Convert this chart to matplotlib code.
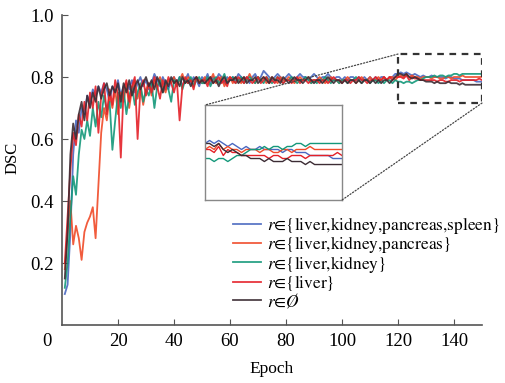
import matplotlib
matplotlib.use("Agg")
import matplotlib.pyplot as plt
from matplotlib.patches import Rectangle, ConnectionPatch

plt.rcParams['font.family'] = ['Liberation Serif', 'DejaVu Serif']
plt.rcParams['mathtext.fontset'] = 'stix'

epochs = list(range(1, 151))

labels = [r"$r$∈{liver,kidney,pancreas,spleen}",
          r"$r$∈{liver,kidney,pancreas}",
          r"$r$∈{liver,kidney}",
          r"$r$∈{liver}",
          r"$r$∈$Ø$"]
colors = ["#4a68c0", "#f04a28", "#14987a", "#e42028", "#3c2c34"]

dsc_spleen = [
    0.10, 0.13, 0.30, 0.55, 0.66, 0.62, 0.70, 0.68, 0.74, 0.72,
    0.76, 0.74, 0.77, 0.75, 0.78, 0.76, 0.72, 0.77, 0.75, 0.79,
    0.74, 0.77, 0.78, 0.76, 0.79, 0.75, 0.78, 0.80, 0.77, 0.79,
    0.76, 0.78, 0.81, 0.79, 0.77, 0.80, 0.78, 0.76, 0.79, 0.80,
    0.78, 0.80, 0.77, 0.79, 0.81, 0.78, 0.80, 0.79, 0.77, 0.80,
    0.79, 0.81, 0.78, 0.80, 0.79, 0.81, 0.80, 0.78, 0.80, 0.79,
    0.80, 0.79, 0.81, 0.80, 0.79, 0.80, 0.78, 0.80, 0.81, 0.79,
    0.80, 0.82, 0.81, 0.80, 0.79, 0.80, 0.81, 0.80, 0.79, 0.80,
    0.81, 0.80, 0.79, 0.80, 0.81, 0.80, 0.80, 0.79, 0.80, 0.81,
    0.80, 0.79, 0.80, 0.80, 0.81, 0.80, 0.79, 0.80, 0.80, 0.79,
    0.80, 0.79, 0.80, 0.80, 0.79, 0.80, 0.79, 0.80, 0.79, 0.80,
    0.79, 0.80, 0.79, 0.80, 0.80, 0.79, 0.80, 0.80, 0.81, 0.81,
    0.815, 0.81, 0.815, 0.81, 0.805, 0.81, 0.805, 0.80, 0.805, 0.80,
    0.80, 0.805, 0.80, 0.80, 0.80, 0.80, 0.795, 0.80, 0.80, 0.795,
    0.795, 0.795, 0.79, 0.79, 0.79, 0.79, 0.79, 0.785, 0.785, 0.785]

dsc_pancreas = [
    0.18, 0.30, 0.40, 0.26, 0.32, 0.28, 0.21, 0.30, 0.33, 0.35,
    0.38, 0.28, 0.45, 0.62, 0.70, 0.66, 0.74, 0.70, 0.76, 0.68,
    0.75, 0.72, 0.78, 0.70, 0.76, 0.79, 0.73, 0.77, 0.71, 0.76,
    0.78, 0.74, 0.79, 0.76, 0.80, 0.77, 0.75, 0.79, 0.78, 0.80,
    0.77, 0.79, 0.81, 0.78, 0.80, 0.79, 0.77, 0.80, 0.79, 0.78,
    0.80, 0.78, 0.79, 0.81, 0.78, 0.79, 0.80, 0.77, 0.79, 0.80,
    0.78, 0.80, 0.79, 0.78, 0.80, 0.79, 0.81, 0.79, 0.78, 0.80,
    0.79, 0.80, 0.78, 0.79, 0.80, 0.79, 0.78, 0.80, 0.79, 0.79,
    0.80, 0.79, 0.78, 0.79, 0.80, 0.79, 0.79, 0.80, 0.78, 0.79,
    0.79, 0.80, 0.79, 0.78, 0.79, 0.80, 0.79, 0.79, 0.78, 0.79,
    0.79, 0.80, 0.79, 0.79, 0.78, 0.79, 0.80, 0.79, 0.79, 0.80,
    0.79, 0.79, 0.80, 0.79, 0.80, 0.79, 0.80, 0.80, 0.79, 0.80,
    0.805, 0.80, 0.81, 0.80, 0.805, 0.80, 0.80, 0.795, 0.80, 0.80,
    0.80, 0.795, 0.80, 0.80, 0.795, 0.795, 0.80, 0.80, 0.795, 0.80,
    0.80, 0.80, 0.805, 0.80, 0.80, 0.80, 0.80, 0.80, 0.80, 0.80]

dsc_kidney = [
    0.12, 0.20, 0.35, 0.48, 0.42, 0.55, 0.63, 0.60, 0.66, 0.61,
    0.70, 0.64, 0.72, 0.67, 0.74, 0.69, 0.72, 0.565, 0.66, 0.75,
    0.70, 0.76, 0.68, 0.74, 0.77, 0.71, 0.75, 0.78, 0.72, 0.76,
    0.74, 0.78, 0.70, 0.77, 0.79, 0.75, 0.78, 0.76, 0.72, 0.79,
    0.77, 0.80, 0.76, 0.79, 0.78, 0.80, 0.77, 0.79, 0.80, 0.78,
    0.78, 0.80, 0.77, 0.79, 0.80, 0.78, 0.79, 0.81, 0.78, 0.79,
    0.80, 0.78, 0.79, 0.80, 0.78, 0.79, 0.80, 0.79, 0.78, 0.80,
    0.79, 0.78, 0.80, 0.79, 0.78, 0.79, 0.80, 0.79, 0.78, 0.79,
    0.79, 0.80, 0.79, 0.78, 0.79, 0.79, 0.80, 0.79, 0.78, 0.79,
    0.78, 0.79, 0.79, 0.80, 0.79, 0.78, 0.79, 0.79, 0.78, 0.79,
    0.79, 0.78, 0.79, 0.79, 0.80, 0.79, 0.78, 0.79, 0.79, 0.78,
    0.79, 0.79, 0.78, 0.79, 0.78, 0.79, 0.79, 0.78, 0.79, 0.785,
    0.785, 0.78, 0.785, 0.785, 0.78, 0.785, 0.79, 0.79, 0.795, 0.80,
    0.80, 0.80, 0.805, 0.80, 0.805, 0.805, 0.80, 0.805, 0.805, 0.81,
    0.81, 0.805, 0.81, 0.81, 0.81, 0.81, 0.81, 0.81, 0.81, 0.81]

dsc_liver = [
    0.20, 0.35, 0.50, 0.62, 0.58, 0.68, 0.64, 0.72, 0.66, 0.75,
    0.70, 0.77, 0.62, 0.74, 0.78, 0.68, 0.76, 0.71, 0.79, 0.74,
    0.54, 0.76, 0.79, 0.72, 0.77, 0.80, 0.60, 0.76, 0.79, 0.74,
    0.78, 0.75, 0.80, 0.77, 0.73, 0.79, 0.76, 0.80, 0.78, 0.75,
    0.79, 0.66, 0.77, 0.80, 0.78, 0.79, 0.76, 0.80, 0.78, 0.79,
    0.79, 0.77, 0.80, 0.78, 0.79, 0.80, 0.78, 0.79, 0.77, 0.80,
    0.79, 0.78, 0.80, 0.79, 0.78, 0.80, 0.79, 0.78, 0.79, 0.80,
    0.78, 0.79, 0.80, 0.78, 0.79, 0.78, 0.80, 0.79, 0.78, 0.79,
    0.79, 0.78, 0.79, 0.80, 0.78, 0.79, 0.79, 0.78, 0.79, 0.79,
    0.79, 0.78, 0.79, 0.79, 0.78, 0.79, 0.80, 0.79, 0.79, 0.78,
    0.79, 0.79, 0.78, 0.79, 0.79, 0.80, 0.79, 0.79, 0.78, 0.79,
    0.79, 0.80, 0.79, 0.79, 0.80, 0.79, 0.80, 0.79, 0.80, 0.80,
    0.80, 0.795, 0.805, 0.79, 0.80, 0.795, 0.795, 0.79, 0.79, 0.79,
    0.79, 0.79, 0.79, 0.785, 0.79, 0.79, 0.785, 0.785, 0.79, 0.79,
    0.79, 0.785, 0.79, 0.79, 0.79, 0.79, 0.79, 0.79, 0.795, 0.79]

dsc_empty = [
    0.15, 0.30, 0.55, 0.65, 0.60, 0.68, 0.72, 0.66, 0.74, 0.70,
    0.75, 0.72, 0.77, 0.73, 0.76, 0.78, 0.74, 0.77, 0.75, 0.78,
    0.72, 0.78, 0.75, 0.79, 0.74, 0.77, 0.79, 0.76, 0.78, 0.80,
    0.77, 0.79, 0.76, 0.80, 0.78, 0.75, 0.79, 0.77, 0.80, 0.78,
    0.79, 0.77, 0.80, 0.78, 0.79, 0.77, 0.79, 0.80, 0.78, 0.79,
    0.78, 0.79, 0.80, 0.78, 0.79, 0.77, 0.79, 0.80, 0.78, 0.79,
    0.79, 0.80, 0.78, 0.79, 0.80, 0.78, 0.79, 0.79, 0.80, 0.78,
    0.79, 0.80, 0.79, 0.78, 0.80, 0.79, 0.79, 0.78, 0.80, 0.79,
    0.78, 0.79, 0.80, 0.79, 0.79, 0.78, 0.79, 0.80, 0.79, 0.78,
    0.79, 0.79, 0.78, 0.79, 0.80, 0.79, 0.78, 0.79, 0.79, 0.78,
    0.79, 0.78, 0.79, 0.79, 0.78, 0.79, 0.78, 0.79, 0.79, 0.78,
    0.79, 0.78, 0.79, 0.78, 0.79, 0.79, 0.78, 0.79, 0.80, 0.81,
    0.81, 0.805, 0.81, 0.80, 0.795, 0.80, 0.795, 0.79, 0.79, 0.785,
    0.785, 0.785, 0.78, 0.785, 0.78, 0.78, 0.78, 0.785, 0.78, 0.78,
    0.78, 0.775, 0.78, 0.775, 0.775, 0.775, 0.775, 0.775, 0.775, 0.775]

series = [dsc_spleen, dsc_pancreas, dsc_kidney, dsc_liver, dsc_empty]

zoom_x = (120, 150)
zoom_y = (0.716, 0.874)

fig = plt.figure(figsize=(5.06, 3.83), dpi=100)
ax = fig.add_axes([62/506, 1 - 325/383, 420/506, 310/383])

for ys, c, lab in zip(series, colors, labels):
    ax.plot(epochs, ys, color=c, lw=1.3, label=lab, alpha=0.9)

ax.set_xlim(0, 150)
ax.set_ylim(0, 1.0)
ax.set_xticks([20, 40, 60, 80, 100, 120, 140])
ax.set_yticks([0.2, 0.4, 0.6, 0.8, 1.0])
ax.set_yticklabels(["0.2", "0.4", "0.6", "0.8", "1.0"])
for s in ["top", "right"]:
    ax.spines[s].set_visible(False)
for s in ["left", "bottom"]:
    ax.spines[s].set_color("#555555")
    ax.spines[s].set_linewidth(1.2)
ax.tick_params(axis="x", direction="in", length=4, color="#555555", labelsize=13.5, pad=6)
ax.tick_params(axis="y", direction="in", length=4, color="#555555", labelsize=13.5, pad=6)
ax.set_xlabel("Epoch", fontsize=12.5, labelpad=8)
ax.set_ylabel("DSC", fontsize=12)
ax.yaxis.set_label_coords(-0.098, 0.54)
fig.text(47/506, 1 - 341/383, "0", fontsize=13.5, ha="center", va="center")

# dashed zoom box
ax.add_patch(Rectangle((zoom_x[0], zoom_y[0]), zoom_x[1] - zoom_x[0], zoom_y[1] - zoom_y[0],
                       fill=False, ls=(0, (3, 2.5)), lw=1.6, ec="#333333", zorder=5))

# inset
axin = ax.inset_axes([(205 - 62)/420, (325 - 200)/310, 137/420, 95/310])
for ys, c in zip(series, colors):
    axin.plot(epochs, ys, color=c, lw=1.0)
axin.set_xlim(*zoom_x)
axin.set_ylim(*zoom_y)
axin.set_xticks([])
axin.set_yticks([])
for s in axin.spines.values():
    s.set_color("#888888")
    s.set_linewidth(1.0)

for (xa, ya), (xb, yb) in [((zoom_x[0], zoom_y[1]), (0, 1)), ((zoom_x[1], zoom_y[0]), (1, 0))]:
    con = ConnectionPatch(xyA=(xa, ya), coordsA=ax.transData, xyB=(xb, yb), coordsB=axin.transAxes,
                          ls=(0, (1, 1.5)), lw=0.9, color="#444444")
    fig.add_artist(con)

ax.legend(loc="upper left", bbox_to_anchor=(233/506, 1 - 215/383), bbox_transform=fig.transFigure,
          frameon=False, prop={"family": "STIXGeneral", "size": 12.5}, handlelength=1.6,
          handletextpad=0.35, labelspacing=-0.1, borderpad=0, borderaxespad=0)

fig.savefig("out.png", dpi=100)
